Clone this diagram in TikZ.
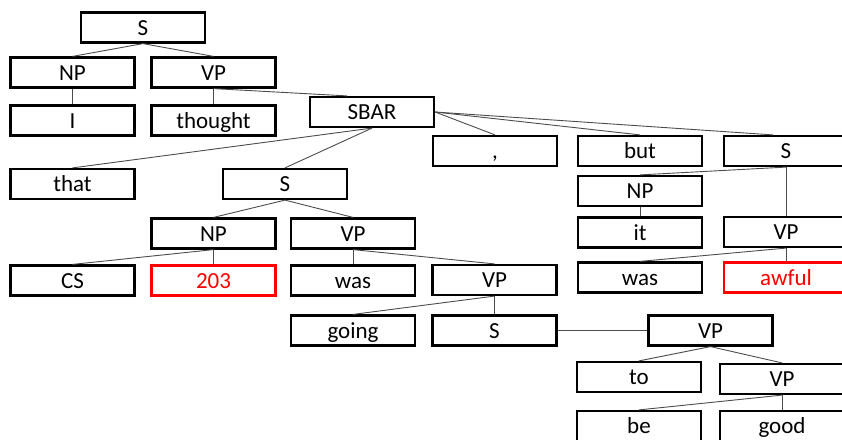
\documentclass[tikz,border=0pt]{standalone}
\usepackage{fontspec}
\setmainfont{Carlito}
\tikzset{
  box/.style={draw, line width=2.2pt, minimum width=124pt, minimum height=30pt,
    inner sep=0pt, text height=15pt, text depth=0pt, font=\fontsize{23}{26}\selectfont},
  hilite/.style={box, draw=red, text=red},
  branch/.style={draw=black!70, line width=0.9pt}
}
\begin{document}
\begin{tikzpicture}[x=1pt,y=-1pt]
      \useasboundingbox (0,0) rectangle (842,439);
      \clip (0,0) rectangle (842,439);
      \draw
        (143,27.5) node[box] (s0){S}
        (72.5,72.5) node[box] (np1){NP}
        (213.5,72.5) node[box] (vp1){VP}
        (72.5,120.5) node[box] (i){I}
        (213.5,120.5) node[box] (thought){thought}
        (372,112) node[box] (sbar){SBAR}
        (72.5,184) node[box] (that){that}
        (285,184) node[box] (s2){S}
        (495,151) node[box] (comma){,}
        (640,151) node[box] (but){but}
        (786,151) node[box] (s3){S}
        (640,191) node[box] (np3){NP}
        (640,232.5) node[box] (it){it}
        (786,232) node[box] (vp3){VP}
        (640,277.5) node[box] (was3){was}
        (786,277.5) node[hilite] (awful){awful}
        (213.5,233.5) node[box] (np2){NP}
        (353,233.5) node[box] (vp2){VP}
        (72.5,280.5) node[box] (cs){CS}
        (213.5,280.5) node[hilite] (num){203}
        (353,280.5) node[box] (was2){was}
        (494.5,280) node[box] (vp4){VP}
        (353,330.5) node[box] (going){going}
        (494.5,330.5) node[box] (s4){S}
        (710.5,330.5) node[box] (vp5){VP}
        (639,377) node[box] (to){to}
        (782,379) node[box] (vp6){VP}
        (639,426) node[box] (be){be}
        (782,426) node[box] (good){good};
      \begin{scope}[branch]
        \draw (s0.south) to (np1.north);
        \draw (s0.south) to (vp1.north);
        \draw (np1.south) to (i.north);
        \draw (vp1.south) to (thought.north);
        \draw (vp1.south) to ([xshift=-25pt]sbar.north);
        \draw (sbar.south) to (that.north);
        \draw (sbar.south) to (s2.north);
        \draw (sbar.east) to (comma.north);
        \draw (sbar.east) to (but.north);
        \draw (sbar.east) to ([xshift=-13pt]s3.north);
        \draw (s3.south) to (np3.north);
        \draw (s3.south) to (vp3.north);
        \draw (np3.south) to (it.north);
        \draw (vp3.south) to (was3.north);
        \draw (vp3.south) to (awful.north);
        \draw (s2.south) to (np2.north);
        \draw (s2.south) to (vp2.north);
        \draw (np2.south) to (cs.north);
        \draw (np2.south) to (num.north);
        \draw (vp2.south) to (was2.north);
        \draw (vp2.south) to (vp4.north);
        \draw (vp4.south) to (going.north);
        \draw (vp4.south) to (s4.north);
        \draw (s4.east) to (vp5.west);
        \draw (vp5.south) to (to.north);
        \draw (vp5.south) to (vp6.north);
        \draw (vp6.south) to (be.north);
        \draw (vp6.south) to (good.north);
      \end{scope}
    \end{tikzpicture}
\end{document}
